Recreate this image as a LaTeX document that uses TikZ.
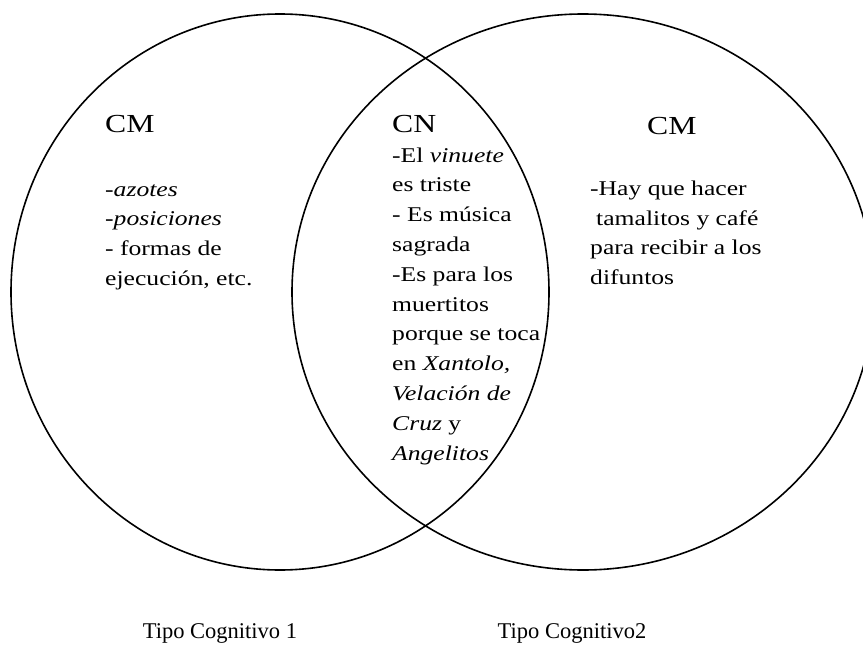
\documentclass[tikz,border=0pt]{standalone}
\usepackage{fontspec}
\setmainfont{Liberation Serif}
\newfontfamily\widef[FakeStretch=1.22]{Liberation Serif}
\begin{document}
\begin{tikzpicture}[x=1pt,y=-1pt,
  ring/.style={line width=1.6pt},
  head/.style={font=\widef\fontsize{26}{30}\selectfont, anchor=base west, inner sep=0pt},
  item/.style={font=\widef\fontsize{21}{30}\selectfont, anchor=base west, inner sep=0pt},
  caption/.style={font=\fontsize{22.5}{27}\selectfont, anchor=base, inner sep=0pt}]
\useasboundingbox (0,0) rectangle (863,653);
\clip (0,0) rectangle (863,653);
% the two sets
\draw[ring] (280,292) ellipse [x radius=269, y radius=278];
\draw[ring] (583,292) ellipse [x radius=291, y radius=278];
% headings
\node[head] (cmL) at (105,132) {CM};
\node[head] (cn) at (392,132) {CN};
\node[head] (cmR) at (647,134) {CM};
% left list
\foreach \t [count=\i from 0] in {{-\textit{azotes}},{-\textit{posiciones}},{- formas de},{ejecución, etc.}}
  \node[item] (a\i) at (105,{196+29.7*\i}) {\t};
% middle list
\foreach \t [count=\i from 0] in {{-El \textit{vinuete}},{es triste},{- Es música},{sagrada},{-Es para los},{muertitos},{porque se toca},{en \textit{Xantolo,}},{\textit{Velación de}},{\textit{Cruz} y},{\textit{Angelitos}}}
  \node[item] (b\i) at (392,{162+29.8*\i}) {\t};
% right list
\node[item] (c0) at (590,195) {-Hay que hacer};
\node[item] (c1) at (596,225) {tamalitos y café};
\node[item] (c2) at (590,254.5) {para recibir a los};
\node[item] (c3) at (590,284) {difuntos};
% captions
\node[caption] (t1) at (220,638) {Tipo Cognitivo 1};
\node[caption] (t2) at (572,638) {Tipo Cognitivo2};
\end{tikzpicture}
\end{document}
